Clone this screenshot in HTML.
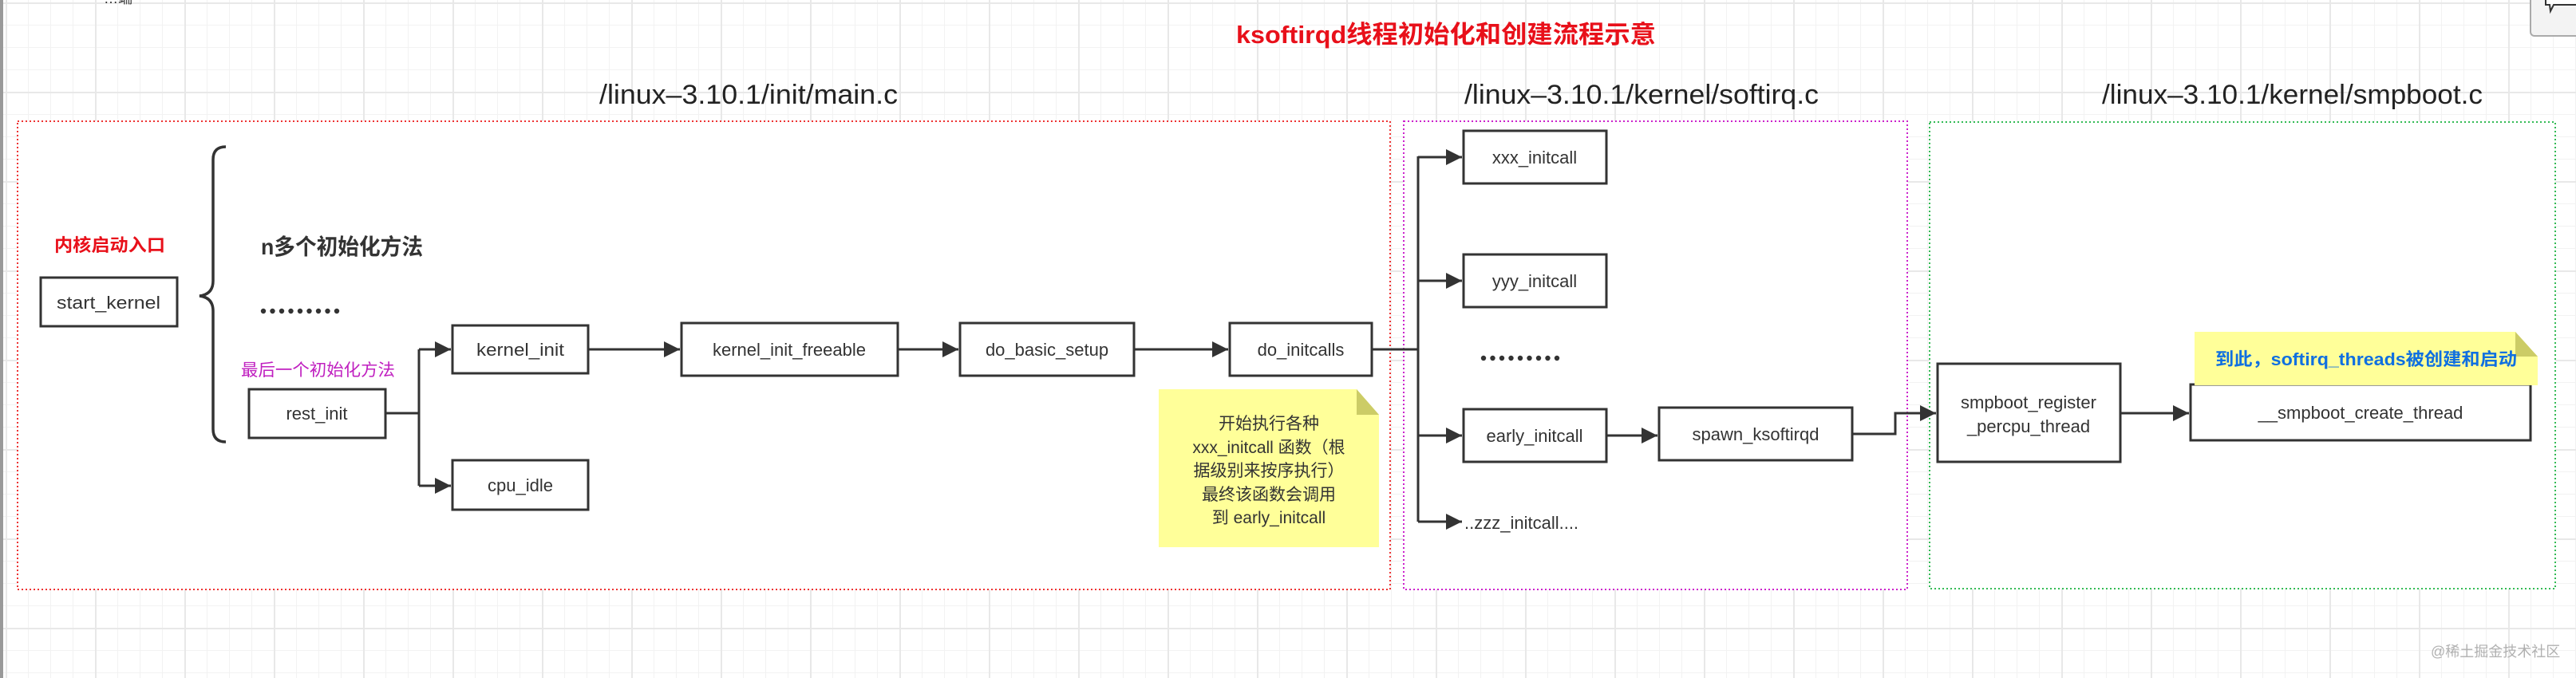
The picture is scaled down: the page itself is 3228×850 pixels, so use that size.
<!DOCTYPE html>
<html><head><meta charset="utf-8"><style>
html,body{margin:0;padding:0;}
body{width:3228px;height:850px;overflow:hidden;background-color:#fff;
background-image:
linear-gradient(to right,#e8e8e8 2px,transparent 2px),
linear-gradient(to bottom,#e8e8e8 2px,transparent 2px),
linear-gradient(to right,#f2f2f2 1px,transparent 1px),
linear-gradient(to bottom,#f2f2f2 1px,transparent 1px);
background-size:112px 112px,112px 112px,28px 28px,28px 28px;
background-position:7px 3px,7px 3px,7px 3px,7px 3px;
font-family:"Liberation Sans","Noto Sans CJK SC",sans-serif;}
svg{position:absolute;left:0;top:0}
text{font-family:"Liberation Sans","Noto Sans CJK SC",sans-serif;}
</style></head><body>
<svg width="3228" height="850" viewBox="0 0 3228 850" xmlns="http://www.w3.org/2000/svg">
<defs>
<marker id="b" viewBox="0 0 10 10" refX="10" refY="5" markerWidth="20" markerHeight="20" markerUnits="userSpaceOnUse" orient="auto"><path d="M0,0 L10,5 L0,10z" fill="#333"/></marker></defs>
<rect x="0" y="0" width="4" height="850" fill="#999"/>
<text x="130" y="4" font-size="18" fill="#333">…端</text>
<rect x="3171" y="-10" width="70" height="55" rx="5" fill="#f3f3f3" stroke="#aaa" stroke-width="2"/>
<path d="M3190,-2 h40 v8 h-30 l-4,8 l-1,-8 h-5z" fill="#fff" stroke="#333" stroke-width="2"/>

<rect x="22" y="152" width="1720" height="587" fill="#fff" stroke="#ee3333" stroke-width="2" stroke-dasharray="2,3"/>
<rect x="1759" y="152" width="631" height="587" fill="#fff" stroke="#cc22cc" stroke-width="2" stroke-dasharray="2,3"/>
<rect x="2418" y="153" width="784" height="585" fill="#fff" stroke="#33bb55" stroke-width="2" stroke-dasharray="2,3"/>

<text x="1549" y="54" font-size="31" font-weight="bold" fill="#e8101a" textLength="526" lengthAdjust="spacingAndGlyphs">ksoftirqd线程初始化和创建流程示意</text>
<text x="751" y="130" font-size="34" fill="#222" textLength="374" lengthAdjust="spacingAndGlyphs">/linux–3.10.1/init/main.c</text>
<text x="1835" y="130" font-size="34" fill="#222" textLength="444" lengthAdjust="spacingAndGlyphs">/linux–3.10.1/kernel/softirq.c</text>
<text x="2634" y="130" font-size="34" fill="#222" textLength="477" lengthAdjust="spacingAndGlyphs">/linux–3.10.1/kernel/smpboot.c</text>

<text x="68" y="315" font-size="22" font-weight="bold" fill="#e8101a" textLength="139" lengthAdjust="spacingAndGlyphs">内核启动入口</text>
<text x="327" y="319" font-size="28" font-weight="bold" fill="#333" textLength="203" lengthAdjust="spacingAndGlyphs">n多个初始化方法</text>
<text x="302" y="471" font-size="21" fill="#c020c0" textLength="193" lengthAdjust="spacingAndGlyphs">最后一个初始化方法</text>
<g fill="#333">
<circle cx="330" cy="390" r="3.2"/><circle cx="341.5" cy="390" r="3.2"/><circle cx="353" cy="390" r="3.2"/><circle cx="364.5" cy="390" r="3.2"/><circle cx="376" cy="390" r="3.2"/><circle cx="387.5" cy="390" r="3.2"/><circle cx="399" cy="390" r="3.2"/><circle cx="410.5" cy="390" r="3.2"/><circle cx="422" cy="390" r="3.2"/>
<circle cx="1859" cy="449" r="3.2"/><circle cx="1870.5" cy="449" r="3.2"/><circle cx="1882" cy="449" r="3.2"/><circle cx="1893.5" cy="449" r="3.2"/><circle cx="1905" cy="449" r="3.2"/><circle cx="1916.5" cy="449" r="3.2"/><circle cx="1928" cy="449" r="3.2"/><circle cx="1939.5" cy="449" r="3.2"/><circle cx="1951" cy="449" r="3.2"/>
</g>

<path d="M283,184 Q267,184 267,200 L267,352 Q267,369 250,371 Q267,373 267,390 L267,538 Q267,554 283,554" fill="none" stroke="#333" stroke-width="3.5"/>

<g fill="#fff" stroke="#333" stroke-width="3">
<rect x="51" y="348" width="171" height="61"/>
<rect x="312" y="488" width="171" height="61"/>
<rect x="567" y="408" width="170" height="60"/>
<rect x="567" y="577" width="170" height="62"/>
<rect x="854" y="405" width="271" height="66"/>
<rect x="1203" y="405" width="218" height="66"/>
<rect x="1541" y="405" width="178" height="66"/>
<rect x="1834" y="164" width="179" height="66"/>
<rect x="1834" y="319" width="179" height="66"/>
<rect x="1834" y="513" width="179" height="66"/>
<rect x="2079" y="511" width="242" height="66"/>
<rect x="2428" y="456" width="229" height="123"/>
<rect x="2745" y="482" width="426" height="70"/>
</g>
<g font-size="22" fill="#333" text-anchor="middle">
<text x="136" y="387" textLength="130" lengthAdjust="spacingAndGlyphs">start_kernel</text>
<text x="397" y="526">rest_init</text>
<text x="652" y="446" textLength="110" lengthAdjust="spacingAndGlyphs">kernel_init</text>
<text x="652" y="616">cpu_idle</text>
<text x="989" y="446">kernel_init_freeable</text>
<text x="1312" y="446">do_basic_setup</text>
<text x="1630" y="446">do_initcalls</text>
<text x="1923" y="205">xxx_initcall</text>
<text x="1923" y="360">yyy_initcall</text>
<text x="1923" y="554">early_initcall</text>
<text x="2200" y="552">spawn_ksoftirqd</text>
<text x="2542" y="512">smpboot_register</text>
<text x="2542" y="542">_percpu_thread</text>
<text x="2958" y="525">__smpboot_create_thread</text>
<text x="1835" y="663" text-anchor="start">..zzz_initcall....</text>
</g>

<g fill="none" stroke="#333" stroke-width="3">
<path d="M483,518 H525 M525,438 V609" />
<path d="M525,438 H565" marker-end="url(#b)"/>
<path d="M525,609 H565" marker-end="url(#b)"/>
<path d="M737,438 H852" marker-end="url(#b)"/>
<path d="M1125,438 H1201" marker-end="url(#b)"/>
<path d="M1421,438 H1539" marker-end="url(#b)"/>
<path d="M1719,438 H1777 M1777,196 V654"/>
<path d="M1777,197 H1832" marker-end="url(#b)"/>
<path d="M1777,352 H1832" marker-end="url(#b)"/>
<path d="M1777,546 H1832" marker-end="url(#b)"/>
<path d="M1777,654 H1832" marker-end="url(#b)"/>
<path d="M2013,546 H2077" marker-end="url(#b)"/>
<path d="M2321,544 H2375 V518 H2426" marker-end="url(#b)"/>
<path d="M2657,518 H2743" marker-end="url(#b)"/>
</g>

<path d="M1452,488 H1700 L1728,520 V686 H1452Z" fill="#ffff99"/>
<path d="M1700,488 L1728,520 H1700Z" fill="#cccc66"/>
<g font-size="21" fill="#333" text-anchor="middle">
<text x="1590" y="538">开始执行各种</text>
<text x="1590" y="568">xxx_initcall 函数（根</text>
<text x="1590" y="597">据级别来按序执行）</text>
<text x="1590" y="627">最终该函数会调用</text>
<text x="1590" y="656">到  early_initcall</text>
</g>
<path d="M2750,416 H3152 L3180,447 V483 H2750Z" fill="#ffff99"/>
<path d="M3152,416 L3180,447 H3152Z" fill="#cccc66"/>
<text x="2776" y="458" font-size="22" font-weight="bold" fill="#1070e0" textLength="378" lengthAdjust="spacingAndGlyphs">到此，softirq_threads被创建和启动</text>

<text x="3046" y="823" font-size="18" fill="#b0b0b0">@稀土掘金技术社区</text>
</svg>
</body></html>
